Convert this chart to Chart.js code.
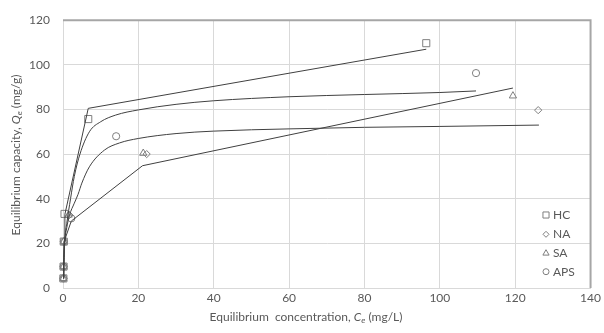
<!DOCTYPE html>
<html><head><meta charset="utf-8">
<script src="https://cdn.jsdelivr.net/npm/chart.js@4.4.0/dist/chart.umd.min.js"></script>
<style>html,body{margin:0;padding:0;background:#fff}#wrap{width:604px;height:333px;position:relative}</style>
</head><body><div id="wrap"><canvas id="c" width="604" height="333"></canvas></div>
<script>
// ---- data ----
const seriesNames = ['HC', 'NA', 'SA', 'APS'];
const markerStyles = ['rect', 'rectRot', 'triangle', 'circle'];
const xTicks = [0, 20, 40, 60, 80, 100, 120, 140];
const yTicks = [0, 20, 40, 60, 80, 100, 120];

// measured points
const hcX  = [0.1, 0.15, 0.2, 0.4, 6.7, 96.4];
const hcQ  = [4.3, 9.6, 20.8, 33.2, 75.7, 109.7];
const naX  = [0.1, 0.15, 0.2, 1.7, 22.2, 126.1];
const naQ  = [4.3, 9.6, 20.8, 32.7, 60.0, 79.7];
const saX  = [0.1, 0.15, 0.2, 1.5, 21.3, 119.4];
const saQ  = [4.3, 9.6, 20.8, 32.7, 60.4, 86.1];
const apsX = [0.1, 0.15, 0.25, 2.2, 14.1, 109.6];
const apsQ = [4.3, 9.6, 20.8, 31.2, 68.0, 96.3];

// model curves
const hcFitX  = [0.15, 0.2, 0.3, 0.5, 6.7, 96.4];
const hcFitQ  = [4.3, 9.6, 20.8, 33.0, 80.5, 107.0];
const saFitX  = [0.15, 0.2, 0.3, 2.2, 21.1, 119.4];
const saFitQ  = [4.3, 9.6, 20.8, 30.0, 54.8, 89.6];
const apsFitX = [0.15, 0.25, 0.5, 1, 2, 3, 4.5, 7, 10, 14, 20, 30, 40, 60, 80, 100, 109.6];
const apsFitQ = [4.3, 12, 22, 29, 40, 50, 60, 70, 74.5, 77.5, 79.8, 82.3, 83.9, 85.7, 86.7, 87.6, 88.3];
const naFitX  = [0.15, 0.25, 0.5, 1, 1.7, 3, 4, 5, 7, 11, 15, 20, 30, 40, 60, 80, 100, 126.3];
const naFitQ  = [4.3, 12, 21, 27, 32.5, 38, 42, 47, 54.3, 61.8, 65, 67, 69.2, 70.3, 71.3, 72, 72.4, 73];

const FONT = 'Lato';
const TXT = '#595959';
const LINE = '#404040';
const MARK = '#7f7f7f';

function pts(xs, ys) { return xs.map((x, i) => ({x: x, y: ys[i]})); }

const markerSets = [[hcX, hcQ], [naX, naQ], [saX, saQ], [apsX, apsQ]];
const markerRadius = [5, 3.6, 4.2, 3.6];
const fitSets = [
  {d: pts(hcFitX, hcFitQ), mono: false},
  {d: pts(naFitX, naFitQ), mono: true},
  {d: pts(saFitX, saFitQ), mono: false},
  {d: pts(apsFitX, apsFitQ), mono: true}
];

const datasets = [];
fitSets.forEach((f, i) => {
  datasets.push({
    label: seriesNames[i] + ' fit', data: f.d, showLine: true, borderColor: LINE, borderWidth: 1,
    pointRadius: 0, pointHoverRadius: 0, fill: false, clip: 5,
    cubicInterpolationMode: f.mono ? 'monotone' : 'default', tension: 0
  });
});
markerSets.forEach((m, i) => {
  datasets.push({
    label: seriesNames[i], data: pts(m[0], m[1]), showLine: false, clip: 8,
    pointStyle: markerStyles[i], pointRadius: markerRadius[i], pointBorderColor: MARK,
    pointBackgroundColor: 'rgba(0,0,0,0)', pointBorderWidth: 1, borderColor: MARK, backgroundColor: 'rgba(0,0,0,0)'
  });
});

function drawRich(ctx, parts, cx, cy, rotate) {
  ctx.save();
  ctx.translate(cx, cy);
  if (rotate) ctx.rotate(-Math.PI / 2);
  ctx.fillStyle = TXT;
  ctx.textBaseline = 'middle';
  ctx.textAlign = 'left';
  let total = 0;
  parts.forEach(p => { ctx.font = p.font; total += ctx.measureText(p.t).width; });
  let x = -total / 2;
  parts.forEach(p => { ctx.font = p.font; ctx.fillText(p.t, x, p.dy || 0); x += ctx.measureText(p.t).width; });
  ctx.restore();
}

function drawMarker(ctx, style, x, y, r) {
  ctx.beginPath();
  if (style === 'rect') { const s = r * Math.SQRT1_2; ctx.rect(x - s, y - s, 2 * s, 2 * s); }
  else if (style === 'rectRot') { ctx.moveTo(x, y - r); ctx.lineTo(x + r, y); ctx.lineTo(x, y + r); ctx.lineTo(x - r, y); ctx.closePath(); }
  else if (style === 'triangle') {
    ctx.moveTo(x, y - r); ctx.lineTo(x + r * 0.866, y + r * 0.5); ctx.lineTo(x - r * 0.866, y + r * 0.5); ctx.closePath();
  } else { ctx.arc(x, y, r, 0, Math.PI * 2); }
  ctx.stroke();
}

const extras = {
  id: 'extras',
  afterDraw(chart) {
    const ctx = chart.ctx, a = chart.chartArea;
    ctx.save();
    ctx.strokeStyle = '#a6a6a6'; ctx.lineWidth = 2;
    ctx.beginPath(); ctx.moveTo(a.left, a.top); ctx.lineTo(a.right, a.top); ctx.lineTo(a.right, a.bottom); ctx.stroke();
    ctx.restore();
    const n = '12px ' + FONT, it = 'italic 12px ' + FONT, sub = 'italic 8.5px ' + FONT;
    drawRich(ctx, [
      {t: 'Equilibrium  concentration, ', font: n},
      {t: 'C', font: it}, {t: 'e', font: sub, dy: 3},
      {t: ' (mg/L)', font: n}
    ], 306, 317, false);
    drawRich(ctx, [
      {t: 'Equilibrium capacity, ', font: n},
      {t: 'Q', font: it}, {t: 'e', font: sub, dy: 3},
      {t: ' (mg/g)', font: n}
    ], 16, 155, true);
    const ly = [215, 234.3, 253.3, 271.7];
    ctx.save();
    ctx.strokeStyle = MARK; ctx.lineWidth = 1;
    ctx.fillStyle = TXT; ctx.font = '12px ' + FONT; ctx.textBaseline = 'middle'; ctx.textAlign = 'left';
    const lr = [4.3, 3, 3.6, 3];
    seriesNames.forEach((s, i) => {
      drawMarker(ctx, markerStyles[i], 546, ly[i], lr[i]);
      ctx.fillText(s, 553, ly[i]);
    });
    ctx.restore();
  }
};

new Chart(document.getElementById('c'), {
  type: 'scatter',
  data: {datasets: datasets},
  plugins: [extras],
  options: {
    responsive: false, animation: false, devicePixelRatio: 1,
    layout: {padding: {top: 20, right: 10, left: 0, bottom: 0}},
    plugins: {legend: {display: false}, tooltip: {enabled: false}},
    scales: {
      x: {
        type: 'linear', min: xTicks[0], max: xTicks[xTicks.length - 1],
        afterBuildTicks: s => { s.ticks = xTicks.map(v => ({value: v})); },
        afterFit: s => { s.height = 45; },
        grid: {color: '#d9d9d9', drawTicks: false, lineWidth: 1},
        border: {color: '#d9d9d9', width: 1},
        ticks: {color: TXT, font: {family: FONT, size: 12}, padding: 3, maxRotation: 0}
      },
      y: {
        type: 'linear', min: yTicks[0], max: yTicks[yTicks.length - 1],
        afterBuildTicks: s => { s.ticks = yTicks.map(v => ({value: v})); },
        afterFit: s => { s.width = 63; },
        grid: {color: '#d9d9d9', drawTicks: false, lineWidth: 1},
        border: {color: '#d9d9d9', width: 1},
        ticks: {color: TXT, font: {family: FONT, size: 12}, padding: 13}
      }
    }
  }
});
</script></body></html>
